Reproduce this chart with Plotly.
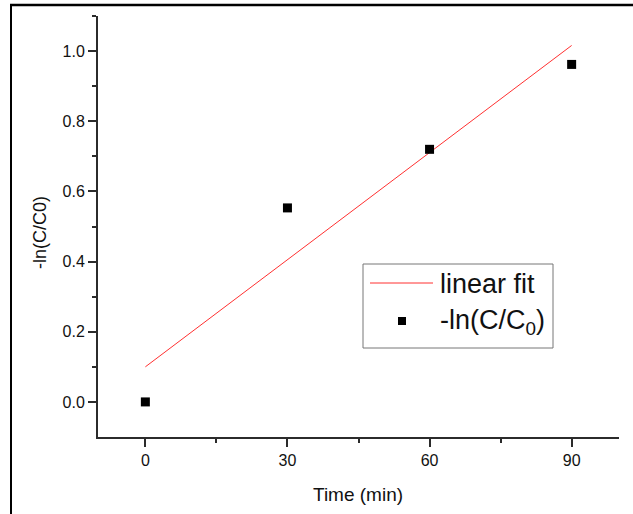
import plotly.graph_objects as go

time_min = [0, 30, 60, 90]
neg_ln_ratio = [0.0, 0.553, 0.720, 0.962]
fit_x = [0, 90]
fit_y = [0.100, 1.016]

x_ticks = [0, 30, 60, 90]
y_ticks = [0.0, 0.2, 0.4, 0.6, 0.8, 1.0]
y_tick_text = ["0.0", "0.2", "0.4", "0.6", "0.8", "1.0"]
legend_labels = ["linear fit", "-ln(C/C<sub>0</sub>)"]

FONT = "Liberation Sans, Arial, sans-serif"
AX = "#2b2b2b"
FIT_COLOR = "#ff3030"

# plot-area pixel geometry (for paper-coordinate conversions)
W, H = 633, 514
L, R, T, B = 98, 14, 16, 77
PW, PH = W - L - R, H - T - B


def px(x):
    return (x - L) / PW


def py(y):
    return (H - B - y) / PH


fig = go.Figure()
fig.add_trace(go.Scatter(x=fit_x, y=fit_y, mode="lines", name=legend_labels[0],
                         line=dict(color=FIT_COLOR, width=1), showlegend=False))
fig.add_trace(go.Scatter(x=time_min, y=neg_ln_ratio, mode="markers",
                         name=legend_labels[1], showlegend=False,
                         marker=dict(symbol="square", size=9, color="black")))

fig.update_layout(
    width=W, height=H,
    margin=dict(l=L, r=R, t=T, b=B),
    paper_bgcolor="white", plot_bgcolor="white",
    font=dict(family=FONT, size=16, color="#111"),
    showlegend=False,
    xaxis=dict(range=[-10, 100], tickvals=x_ticks, ticks="outside", ticklen=8,
               tickwidth=1.5, tickcolor=AX, showline=True, linecolor=AX,
               linewidth=2, showgrid=False, zeroline=False, automargin=False,
               minor=dict(tickvals=[15, 45, 75], ticks="outside", ticklen=4,
                          tickwidth=1.5, tickcolor=AX)),
    yaxis=dict(range=[-0.1, 1.1], tickvals=y_ticks, ticktext=y_tick_text,
               ticks="outside", ticklen=8, tickwidth=1.5, tickcolor=AX,
               showline=True, linecolor=AX, linewidth=2, showgrid=False,
               zeroline=False, automargin=False,
               minor=dict(tickvals=[0.1, 0.3, 0.5, 0.7, 0.9, 1.1], ticks="outside",
                          ticklen=4, tickwidth=1.5, tickcolor=AX)),
)

# axis titles
fig.add_annotation(text="Time (min)", xref="paper", yref="paper", x=px(358), y=py(494),
                   showarrow=False, xanchor="center", yanchor="middle",
                   font=dict(size=19, color="#111"))
fig.add_annotation(text="-ln(C/C0)", xref="paper", yref="paper", x=px(40), y=py(233),
                   showarrow=False, xanchor="center", yanchor="middle", textangle=-90,
                   font=dict(size=18, color="#111"))

# legend (drawn manually to match the reference box)
fig.add_shape(type="rect", xref="paper", yref="paper", x0=px(363), x1=px(553),
              y0=py(348), y1=py(264), line=dict(color="#777", width=1),
              fillcolor="white", layer="above")
fig.add_shape(type="line", xref="paper", yref="paper", x0=px(370), x1=px(433),
              y0=py(283), y1=py(283), line=dict(color=FIT_COLOR, width=1), layer="above")
fig.add_shape(type="rect", xref="paper", yref="paper", xsizemode="pixel",
              ysizemode="pixel", xanchor=px(402), yanchor=py(321), x0=-4, x1=4,
              y0=-4, y1=4, fillcolor="black", line=dict(width=0), layer="above")
fig.add_annotation(text=legend_labels[0], xref="paper", yref="paper", x=px(438),
                   y=py(284), showarrow=False, xanchor="left", yanchor="middle",
                   font=dict(size=27, color="#111"))
fig.add_annotation(text=legend_labels[1], xref="paper", yref="paper", x=px(438),
                   y=py(322), showarrow=False, xanchor="left", yanchor="middle",
                   font=dict(size=27, color="#111"))

# outer frame of the image (left and top edges visible)
fig.add_shape(type="line", xref="paper", yref="paper", x0=px(10), x1=px(633),
              y0=py(5), y1=py(5), line=dict(color="black", width=2.5), layer="above")
fig.add_shape(type="line", xref="paper", yref="paper", x0=px(11), x1=px(11),
              y0=py(4), y1=py(525), line=dict(color="black", width=2), layer="above")

fig.write_html("out.html", config={"displayModeBar": False},
               post_script="document.body.style.margin='0';document.body.style.overflow='hidden';")
